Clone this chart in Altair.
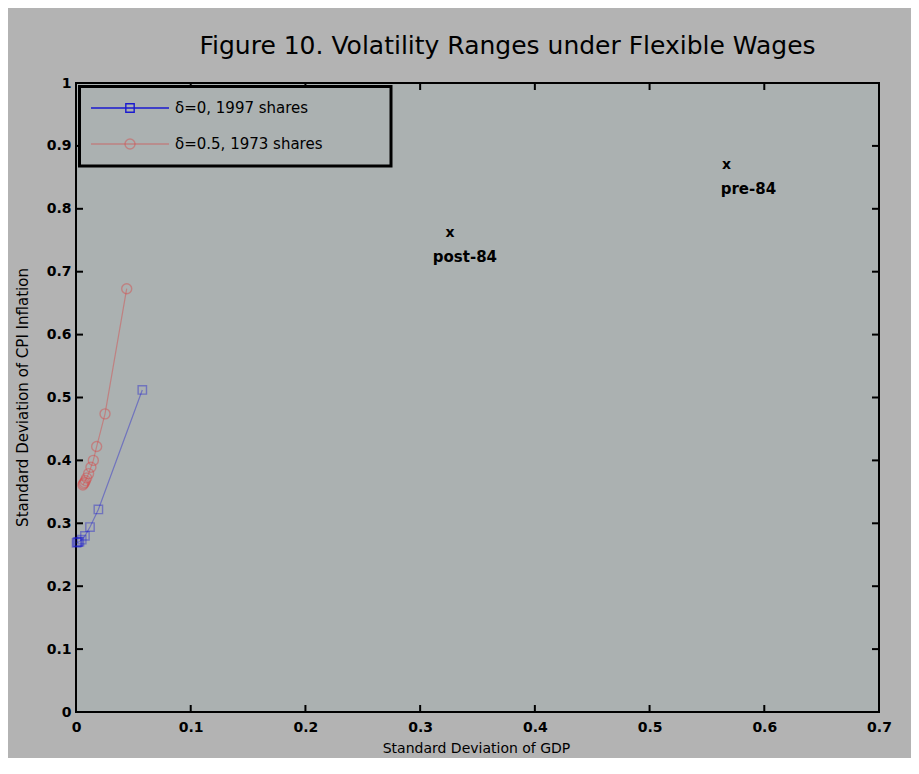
import altair as alt
import pandas as pd

# ---- data ----
blue_gdp = [0.0578, 0.0195, 0.0122, 0.0078, 0.0050, 0.0030, 0.0020, 0.0012, 0.0005]
blue_cpi = [0.512, 0.322, 0.294, 0.280, 0.274, 0.271, 0.270, 0.270, 0.269]
red_gdp = [0.0442, 0.0253, 0.0180, 0.0151, 0.0130, 0.0110, 0.0093, 0.0082, 0.0074, 0.0066, 0.0060]
red_cpi = [0.673, 0.474, 0.422, 0.400, 0.389, 0.379, 0.372, 0.368, 0.365, 0.363, 0.361]

mark_names = ["post-84", "pre-84"]
mark_gdp = [0.326, 0.567]
mark_cpi = [0.761, 0.870]
label_gdp = [0.311, 0.562]
label_cpi = [0.723, 0.832]

x_ticks = [0, 0.1, 0.2, 0.3, 0.4, 0.5, 0.6, 0.7]
y_ticks = [0, 0.1, 0.2, 0.3, 0.4, 0.5, 0.6, 0.7, 0.8, 0.9, 1.0]

legend_labels = ["\u03b4=0, 1997 shares", "\u03b4=0.5, 1973 shares"]

FONT = "DejaVu Sans"
W, H = 803, 629
BLUE = "#1a1ad0"
RED = "#d84848"

blue_df = pd.DataFrame({"gdp": blue_gdp, "cpi": blue_cpi, "order": range(len(blue_gdp))})
red_df = pd.DataFrame({"gdp": red_gdp, "cpi": red_cpi, "order": range(len(red_gdp))})
marks_df = pd.DataFrame({"name": mark_names, "gdp": mark_gdp, "cpi": mark_cpi,
                         "lgdp": label_gdp, "lcpi": label_cpi})
xt_df = pd.DataFrame({"v": x_ticks})
yt_df = pd.DataFrame({"v": y_ticks})
one_df = pd.DataFrame({"a": [0]})

xscale = alt.Scale(domain=[0, 0.7], nice=False, zero=False)
yscale = alt.Scale(domain=[0, 1], nice=False, zero=False)

x_axis = alt.Axis(values=x_ticks, format="~g", ticks=False, domain=False, grid=False,
                  labelFont=FONT, labelFontSize=14, labelFontWeight="bold", labelColor="black",
                  labelPadding=8, labelFlush=False, labelOverlap=False,
                  title="Standard Deviation of GDP", titleFont=FONT, titleFontSize=14,
                  titleFontWeight="normal", titleColor="black",
                  titleX=400, titleY=36, titleBaseline="middle", titleAlign="center")
y_axis = alt.Axis(values=y_ticks, format="~g", ticks=False, domain=False, grid=False,
                  labelFont=FONT, labelFontSize=14, labelFontWeight="bold", labelColor="black",
                  labelPadding=5, labelFlush=False, labelOverlap=False,
                  title="Standard Deviation of CPI Inflation", titleFont=FONT, titleFontSize=15,
                  titleFontWeight="normal", titleColor="black",
                  titleX=-54, titleY=314, titleAngle=270, titleBaseline="middle",
                  titleAlign="center")


def X(field):
    return alt.X(field, type="quantitative", scale=xscale, axis=x_axis)


def Y(field):
    return alt.Y(field, type="quantitative", scale=yscale, axis=y_axis)


blue_line = alt.Chart(blue_df).mark_line(color=BLUE, strokeWidth=1.2, opacity=0.4).encode(
    x=X("gdp"), y=Y("cpi"), order="order:Q")
blue_pts = alt.Chart(blue_df).mark_point(shape="square", size=70, filled=False, color=BLUE,
                                         strokeWidth=1.4, opacity=0.4).encode(
    x=X("gdp"), y=Y("cpi"))
red_line = alt.Chart(red_df).mark_line(color=RED, strokeWidth=1.2, opacity=0.45).encode(
    x=X("gdp"), y=Y("cpi"), order="order:Q")
red_pts = alt.Chart(red_df).mark_point(shape="circle", size=100, filled=False, color=RED,
                                       strokeWidth=1.4, opacity=0.45).encode(
    x=X("gdp"), y=Y("cpi"))

x_marks = alt.Chart(marks_df).mark_text(text="x", font=FONT, fontSize=14, fontWeight="bold",
                                        color="black", align="center", baseline="middle").encode(
    x=X("gdp"), y=Y("cpi"))
x_labels = alt.Chart(marks_df).mark_text(font=FONT, fontSize=15, fontWeight="bold", color="black",
                                         align="left", baseline="middle").encode(
    x=X("lgdp"), y=Y("lcpi"), text="name:N")

TK = 7
left_ticks = alt.Chart(yt_df).mark_rule(color="black", strokeWidth=2).encode(
    y=Y("v"), x=alt.value(0), x2=alt.value(TK))
right_ticks = alt.Chart(yt_df).mark_rule(color="black", strokeWidth=2).encode(
    y=Y("v"), x=alt.value(W - TK), x2=alt.value(W))
bottom_ticks = alt.Chart(xt_df).mark_rule(color="black", strokeWidth=2).encode(
    x=X("v"), y=alt.value(H - TK), y2=alt.value(H))
top_ticks = alt.Chart(xt_df).mark_rule(color="black", strokeWidth=2).encode(
    x=X("v"), y=alt.value(0), y2=alt.value(TK))

# ---- legend box ----
legend_box = alt.Chart(one_df).mark_rect(fill="#abb1b1", stroke="black", strokeWidth=3).encode(
    x=alt.value(3.5), x2=alt.value(315), y=alt.value(3.5), y2=alt.value(83))

legend_layers = [legend_box]
leg_styles = [(BLUE, "square", 70, 1.0), (RED, "circle", 100, 0.45)]
for i, (lab, (col, shp, sz, op)) in enumerate(zip(legend_labels, leg_styles)):
    ly = 25 + 36 * i
    legend_layers.append(alt.Chart(one_df).mark_rule(color=col, strokeWidth=1.4, opacity=op).encode(
        x=alt.value(15), x2=alt.value(93), y=alt.value(ly)))
    legend_layers.append(alt.Chart(one_df).mark_point(shape=shp, size=sz, filled=False, color=col,
                                                      strokeWidth=1.4, opacity=op).encode(
        x=alt.value(54), y=alt.value(ly)))
    legend_layers.append(alt.Chart(one_df).mark_text(text=lab, font=FONT, fontSize=15,
                                                     color="black", align="left",
                                                     baseline="middle").encode(
        x=alt.value(99), y=alt.value(ly)))

chart = alt.layer(
    blue_line, blue_pts, red_line, red_pts, x_marks, x_labels,
    left_ticks, right_ticks, bottom_ticks, top_ticks, *legend_layers
).properties(
    width=W, height=H,
    title=alt.TitleParams("Figure 10. Volatility Ranges under Flexible Wages",
                          font=FONT, fontSize=25, fontWeight="normal", color="black",
                          dx=30, offset=17),
    autosize=alt.AutoSizeParams(type="none"),
    padding={"left": 68, "top": 75, "right": 32, "bottom": 46},
    background="#b3b3b3",
).configure_view(
    fill="#abb1b1", stroke="black", strokeWidth=2
)

chart.save("out.html", embed_options={"renderer": "svg", "actions": False})
